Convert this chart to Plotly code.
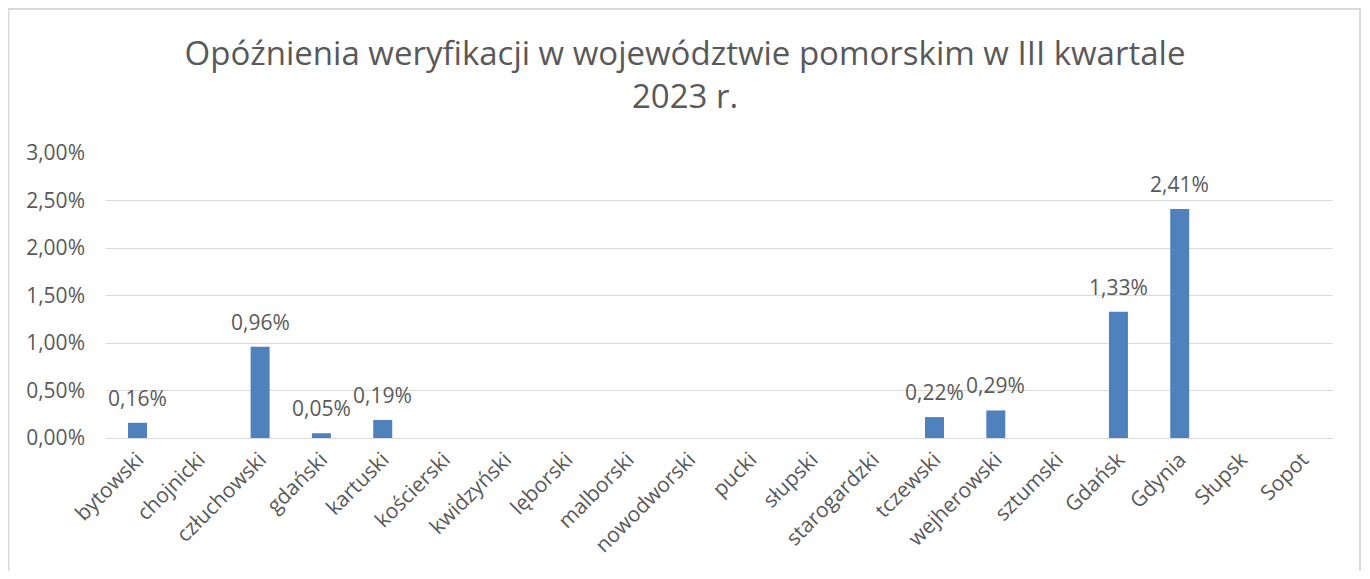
import plotly.graph_objects as go

categories = ["bytowski", "chojnicki", "człuchowski", "gdański", "kartuski", "kościerski",
              "kwidzyński", "lęborski", "malborski", "nowodworski", "pucki", "słupski",
              "starogardzki", "tczewski", "wejherowski", "sztumski", "Gdańsk", "Gdynia",
              "Słupsk", "Sopot"]
values = [0.0016, 0, 0.0096, 0.0005, 0.0019, 0, 0, 0, 0, 0, 0, 0, 0,
          0.0022, 0.0029, 0, 0.0133, 0.0241, 0, 0]
y_ticks = [0, 0.005, 0.01, 0.015, 0.02, 0.025, 0.03]

labels = [("%.2f%%" % (v * 100)).replace(".", ",") if v > 0 else "" for v in values]

FONT = "Open Sans"
GRAY = "#595959"

fig = go.Figure(go.Bar(
    x=categories, y=values,
    marker=dict(color="#4f81bd", line=dict(width=0)),
    hoverinfo="skip",
))

annotations = [
    dict(x=c, y=v, xref="x", yref="y", text=t, showarrow=False,
         yanchor="bottom", yshift=9, font=dict(family=FONT, size=21, color=GRAY))
    for c, v, t in zip(categories, values, labels) if t
]

fig.update_layout(
    width=1354, height=563,
    margin=dict(l=98, r=29, t=145, b=133, autoexpand=False),
    paper_bgcolor="white", plot_bgcolor="white",
    separators=", ",
    bargap=0.69,
    showlegend=False,
    annotations=annotations,
    title=dict(text="Opóźnienia weryfikacji w województwie pomorskim w III kwartale<br>2023 r.",
               x=0.5, xanchor="center", y=0.898, yanchor="middle",
               font=dict(family=FONT, size=33, color=GRAY)),
    xaxis=dict(tickangle=-45, tickfont=dict(family=FONT, size=21, color=GRAY),
               showline=True, linecolor="#d9d9d9", linewidth=1, ticks="",
               showgrid=False, automargin=False),
    yaxis=dict(range=[0, 0.03], tickvals=y_ticks, tickformat=".2%",
               tickfont=dict(family=FONT, size=21, color=GRAY),
               showgrid=True, gridcolor="#d9d9d9", gridwidth=1,
               zeroline=False, showline=False, ticks="", ticklabelstandoff=20,
               automargin=False),
    shapes=[dict(type="rect", xref="paper", yref="paper",
                 x0=-0.0795, x1=1.0220, y0=-0.56, y1=1.505,
                 line=dict(color="#d9d9d9", width=2), layer="below")],
)

fig.write_html("out.html")
